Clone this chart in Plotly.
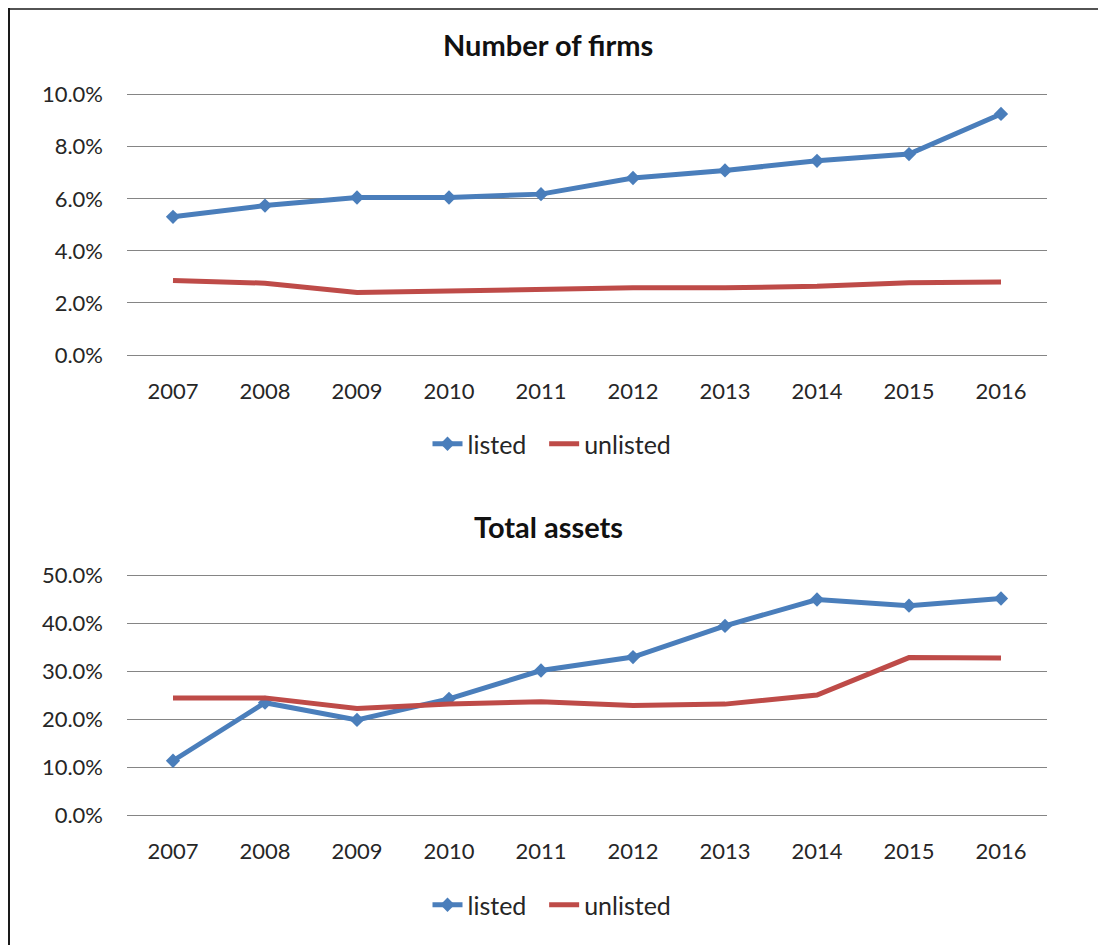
import plotly.graph_objects as go

# data
years = [2007, 2008, 2009, 2010, 2011, 2012, 2013, 2014, 2015, 2016]
firms_listed = [0.0531, 0.0574, 0.0605, 0.0605, 0.0618, 0.0680, 0.0709, 0.0746, 0.0772, 0.0926]
firms_unlisted = [0.0286, 0.0276, 0.0240, 0.0246, 0.0253, 0.0258, 0.0258, 0.0264, 0.0278, 0.0280]
assets_listed = [0.113, 0.234, 0.198, 0.242, 0.301, 0.329, 0.394, 0.449, 0.436, 0.451]
assets_unlisted = [0.244, 0.244, 0.222, 0.231, 0.236, 0.228, 0.231, 0.250, 0.328, 0.327]

blue = '#4a7ebb'
red = '#be4b48'
font = 'Lato, Open Sans, sans-serif'

# the page body has an 8px margin, so the figure is laid out in shifted pixels
OFF = 8
W, H = 1106 - OFF, 945 - OFF


def px_x(x):
    return (x - OFF) / W


def px_y(y):
    return 1 - (y - OFF) / H


def y_frame(y_zero, y_top, top_val, pad=3):
    # domain and range so that 0 and top_val land on the given pixel rows,
    # padded a little so the end gridlines are still drawn
    per_px = top_val / (y_zero - y_top)
    rng = [-pad * per_px, top_val + pad * per_px]
    dom = [px_y(y_zero + pad), px_y(y_top - pad)]
    return dom, rng


top_dom, top_rng = y_frame(355, 94.7, 0.10)
bot_dom, bot_rng = y_frame(815, 575, 0.50)
x_dom = [px_x(127), px_x(1047)]

fig = go.Figure()


def add_pair(listed, unlisted, xa, ya, leg):
    # a couple of non-breaking spaces widen the gap between legend entries
    fig.add_trace(go.Scatter(
        x=years, y=listed, name='listed\u00a0\u00a0', mode='lines+markers',
        line=dict(color=blue, width=5),
        marker=dict(symbol='diamond', size=11, color=blue),
        xaxis=xa, yaxis=ya, legend=leg,
    ))
    fig.add_trace(go.Scatter(
        x=years, y=unlisted, name='unlisted', mode='lines',
        line=dict(color=red, width=5),
        xaxis=xa, yaxis=ya, legend=leg,
    ))


add_pair(firms_listed, firms_unlisted, 'x', 'y', 'legend')
add_pair(assets_listed, assets_unlisted, 'x2', 'y2', 'legend2')

xaxis_style = dict(
    range=[2006.5, 2016.5], tickvals=years, showgrid=False, zeroline=False,
    showline=False, ticks='', ticklabelstandoff=18, automargin=False,
    tickfont=dict(family=font, size=22, color='#262626'), fixedrange=True,
)
yaxis_style = dict(
    tickformat='.1%', showgrid=True, gridcolor='#858585', gridwidth=1,
    zeroline=False, showline=False, ticks='', ticklabelstandoff=23, automargin=False,
    tickfont=dict(family=font, size=22, color='#262626'),
)

legend_style = dict(
    orientation='h', xanchor='center', yanchor='middle',
    font=dict(family=font, size=25, color='#262626'),
    bgcolor='rgba(0,0,0,0)', tracegroupgap=0,
)

fig.update_layout(
    width=W, height=H,
    margin=dict(l=0, r=0, t=0, b=0),
    paper_bgcolor='white', plot_bgcolor='white',
    showlegend=True,
    xaxis=dict(domain=x_dom, anchor='y', **xaxis_style),
    yaxis=dict(domain=top_dom, range=top_rng, tickvals=[0, 0.02, 0.04, 0.06, 0.08, 0.10], anchor='x', **yaxis_style),
    xaxis2=dict(domain=x_dom, anchor='y2', **xaxis_style),
    yaxis2=dict(domain=bot_dom, range=bot_rng, tickvals=[0, 0.1, 0.2, 0.3, 0.4, 0.5], anchor='x2', **yaxis_style),
    legend=dict(x=px_x(552), y=px_y(444), **legend_style),
    legend2=dict(x=px_x(552), y=px_y(905), **legend_style),
    annotations=[
        dict(text='<b>Number of firms</b>', x=px_x(548), y=px_y(44), xref='paper', yref='paper',
             xanchor='center', yanchor='middle', showarrow=False,
             font=dict(family=font, size=29, color='#111111')),
        dict(text='<b>Total assets</b>', x=px_x(548), y=px_y(526), xref='paper', yref='paper',
             xanchor='center', yanchor='middle', showarrow=False,
             font=dict(family=font, size=29, color='#111111')),
    ],
    shapes=[
        # outer frame of the figure
        dict(type='line', xref='paper', yref='paper', x0=1 / W, x1=1 / W, y0=0, y1=1,
             line=dict(color='#1a1a1a', width=2)),
        dict(type='line', xref='paper', yref='paper', x0=px_x(1104), x1=px_x(1104), y0=0, y1=1,
             line=dict(color='#1a1a1a', width=2)),
        dict(type='line', xref='paper', yref='paper', x0=0, x1=px_x(1105), y0=1 - 1 / H, y1=1 - 1 / H,
             line=dict(color='#1a1a1a', width=1.5)),
    ],
)

fig.write_html("out.html")
